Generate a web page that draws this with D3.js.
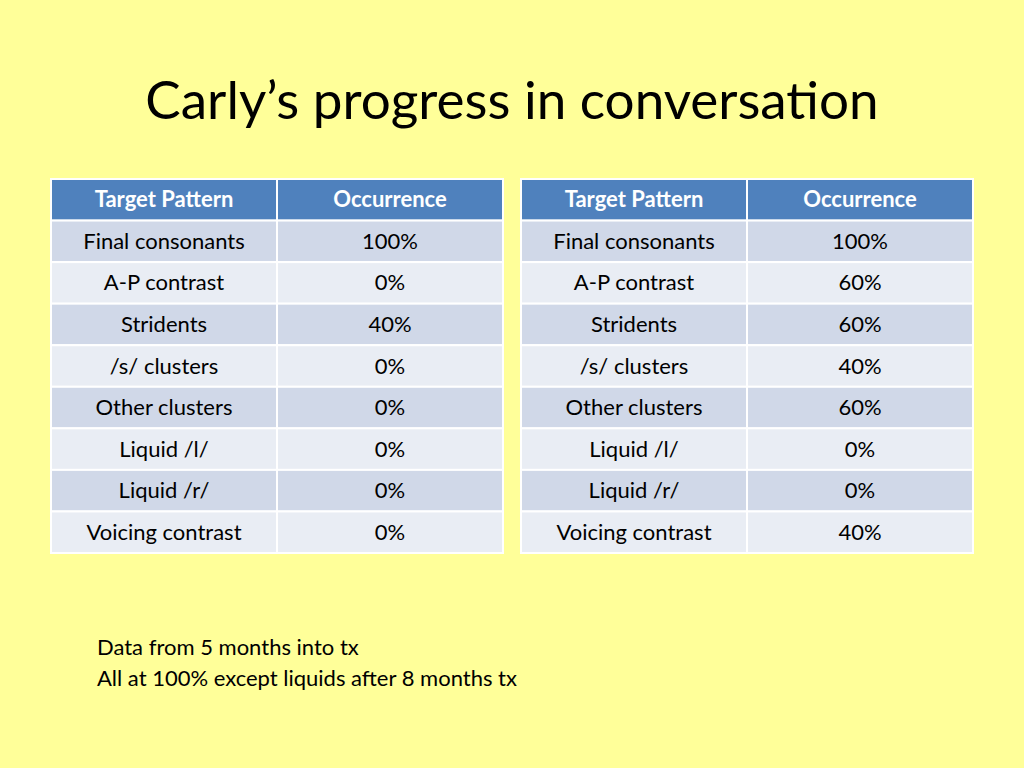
<!DOCTYPE html>
<html><head><meta charset="utf-8">
<script src="https://cdn.jsdelivr.net/npm/d3@7"></script>
<style>body{margin:0;background:#FFFF99;}svg{display:block;}</style>
</head><body>
<script>
const title = "Carly’s progress in conversation";
const headers = ["Target Pattern", "Occurrence"];
const patterns = ["Final consonants","A-P contrast","Stridents","/s/ clusters","Other clusters","Liquid /l/","Liquid /r/","Voicing contrast"];
const month5 = ["100%","0%","40%","0%","0%","0%","0%","0%"];
const month8 = ["100%","60%","60%","40%","60%","0%","0%","40%"];
const notes = ["Data from 5 months into tx","All at 100% except liquids after 8 months tx"];

const svg = d3.select("body").append("svg").attr("width",1024).attr("height",768);
svg.append("rect").attr("width",1024).attr("height",768).attr("fill","#FFFF99");
const font = "Lato, 'Open Sans', sans-serif";
svg.append("text").attr("x",512).attr("y",119).attr("text-anchor","middle")
  .attr("font-family",font).attr("font-size",53).attr("fill","#000").text(title);

const y = d3.scaleBand().domain(d3.range(patterns.length+1)).range([179,553]);
function table(x0, values){
  const cols = d3.scaleOrdinal().domain([0,1]).range([x0, x0+226]);
  const w = 226;
  const g = svg.append("g");
  const rows = [headers].concat(patterns.map((p,i)=>[p, values[i]]));
  rows.forEach((r,i)=>{
    const fill = i===0 ? "#4F81BD" : (i%2===1 ? "#D0D8E8" : "#E9EDF4");
    r.forEach((t,j)=>{
      g.append("rect").attr("x",cols(j)).attr("y",y(i)).attr("width",w).attr("height",y.bandwidth())
        .attr("fill",fill).attr("stroke","#fff").attr("stroke-width",2);
      g.append("text").attr("x",cols(j)+w/2).attr("y",y(i)+y.bandwidth()/2+7.5)
        .attr("text-anchor","middle").attr("font-family",font).attr("font-size",22)
        .attr("font-weight", i===0?"bold":"normal").attr("fill", i===0?"#fff":"#000").text(t);
    });
  });
}
table(51, month5);
table(521, month8);
notes.forEach((n,i)=>svg.append("text").attr("x",97).attr("y",655+i*31)
  .attr("font-family",font).attr("font-size",22).attr("fill","#000").text(n));
</script>
</body></html>
